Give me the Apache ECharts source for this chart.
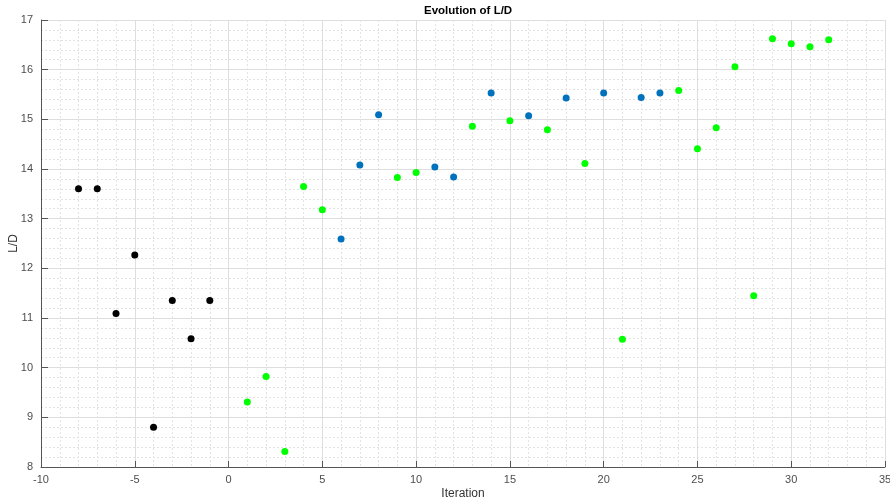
<!DOCTYPE html>
<html><head><meta charset="utf-8">
<script src="https://cdn.jsdelivr.net/npm/echarts@6/dist/echarts.min.js"></script>
<style>html,body{margin:0;padding:0;background:#fff}#c{width:890px;height:503px}</style>
</head><body><div id="c"></div>
<script>
var blackIter = [-8, -7, -6, -5, -4, -3, -2, -1];
var blackLD   = [13.60, 13.60, 11.09, 12.27, 8.80, 11.35, 10.58, 11.35];
var blueIter  = [6, 7, 8, 11, 12, 14, 16, 18, 20, 22, 23];
var blueLD    = [12.59, 14.08, 15.09, 14.04, 13.84, 15.53, 15.07, 15.43, 15.53, 15.44, 15.53];
var greenIter = [1, 2, 3, 4, 5, 9, 10, 13, 15, 17, 19, 21, 24, 25, 26, 27, 28, 29, 30, 31, 32];
var greenLD   = [9.31, 9.82, 8.31, 13.65, 13.18, 13.83, 13.93, 14.86, 14.97, 14.79, 14.11, 10.57, 15.58, 14.41, 14.83, 16.06, 11.45, 16.62, 16.52, 16.46, 16.60];

function pairs(xs, ys){ return xs.map(function(x,i){ return [x, ys[i]]; }); }

var font = 'Liberation Sans, Arial, Helvetica, sans-serif';
var chart = echarts.init(document.getElementById('c'), null, {renderer:'canvas'});
function axisCommon(){
  return {
    axisLine:{show:true, onZero:false, lineStyle:{color:'#555', width:1}},
    axisTick:{show:true, inside:true, length:6, lineStyle:{color:'#555'}},
    axisLabel:{color:'#4d4d4d', fontSize:11, fontFamily:font},
    splitLine:{show:true, lineStyle:{color:'#dedede', width:1}},
    minorTick:{show:true, splitNumber:5, length:0},
    minorSplitLine:{show:true, lineStyle:{color:'#e3e3e3', type:[2,2], width:1}}
  };
}
var xa = axisCommon();
Object.assign(xa, {type:'value', min:-10, max:35, interval:5, name:'Iteration', nameLocation:'middle', nameGap:21,
  nameMoveOverlap:false,
  nameTextStyle:{color:'#333', fontSize:12, fontFamily:font}});
xa.axisLabel.margin = 7;
var ya = axisCommon();
Object.assign(ya, {type:'value', min:8, max:17, interval:1, name:'L/D', nameLocation:'middle', nameGap:21,
  nameMoveOverlap:false,
  nameTextStyle:{color:'#333', fontSize:12, fontFamily:font}});
ya.axisLabel.margin = 8;
ya.axisTick.length = 7;

chart.setOption({
  animation:false,
  title:{text:'Evolution of L/D', left:419, top:0,
    textStyle:{fontSize:11.5, fontWeight:'bold', color:'#000', fontFamily:font}},
  grid:{left:41, right:5, top:20, bottom:36, show:false, containLabel:false, outerBoundsMode:'none'},
  xAxis:xa,
  yAxis:ya,
  series:[
    {type:'scatter', data:pairs(blackIter, blackLD), symbolSize:7, itemStyle:{color:'#000000', opacity:1}},
    {type:'scatter', data:pairs(blueIter, blueLD), symbolSize:7, itemStyle:{color:'#0072BD', opacity:1}},
    {type:'scatter', data:pairs(greenIter, greenLD), symbolSize:7, itemStyle:{color:'#00FF00', opacity:1}}
  ]
});
</script></body></html>
